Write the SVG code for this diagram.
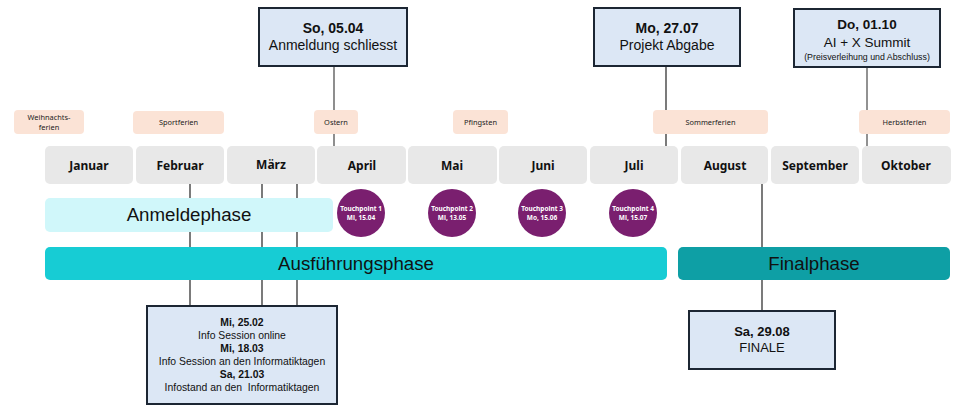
<svg xmlns="http://www.w3.org/2000/svg" width="980" height="410" viewBox="0 0 980 410">
<style>
.month rect{fill:#E8E8E8;}
.month text{font-family:"Noto Sans","DejaVu Sans",sans-serif;font-weight:bold;font-size:12px;fill:#111;text-anchor:middle;}
.hol rect{fill:#FBE3D6;}
.hol text{font-family:"Noto Sans","DejaVu Sans",sans-serif;font-size:7.4px;fill:#222;text-anchor:middle;}
.ev rect{fill:#DCE7F5;stroke:#1C2633;stroke-width:2;}
.ev text{font-family:"Liberation Sans","Arial",sans-serif;fill:#111;text-anchor:middle;}
.b{font-weight:bold;}
.tp circle{fill:#7A1F6F;}
.tp text{font-family:"Noto Sans","DejaVu Sans",sans-serif;font-weight:bold;font-size:6.5px;fill:#fff;text-anchor:middle;}
.ph text{font-family:"Liberation Sans","Arial",sans-serif;font-size:18.7px;fill:#111;text-anchor:middle;}
.con line{stroke:#222;stroke-width:1.2;}
</style>
<rect width="980" height="410" fill="#fff"/>
<g id="connectors" class="con">
<line x1="334" y1="66" x2="334" y2="146" style="stroke:#444"/>
<line x1="666" y1="66" x2="666" y2="146"/>
<line x1="867" y1="67" x2="867" y2="146" style="stroke:#777;stroke-width:1.6"/>
<line x1="190" y1="184" x2="190" y2="306"/>
<line x1="262" y1="184" x2="262" y2="306"/>
<line x1="297" y1="184" x2="297" y2="306"/>
<line x1="762" y1="184" x2="762" y2="311"/>
</g>
<g id="holidays" class="hol">
<g id="h-weihnachten"><rect x="14" y="110" width="70" height="24" rx="4"/><text x="49" y="120">Weihnachts-</text><text x="49" y="130">ferien</text></g>
<g id="h-sport"><rect x="133" y="111" width="91" height="23" rx="4"/><text x="178.5" y="125">Sportferien</text></g>
<g id="h-ostern"><rect x="314" y="110" width="44" height="24" rx="4"/><text x="336" y="125">Ostern</text></g>
<g id="h-pfingsten"><rect x="453" y="110" width="55" height="24" rx="4"/><text x="480.5" y="125">Pfingsten</text></g>
<g id="h-sommer"><rect x="653" y="110" width="115" height="24" rx="4"/><text x="710.5" y="125">Sommerferien</text></g>
<g id="h-herbst"><rect x="859" y="110" width="91" height="24" rx="4"/><text x="904.5" y="125">Herbstferien</text></g>
</g>
<g id="months" class="month">
<g id="m-jan"><rect x="45" y="146" width="88" height="38" rx="5"/><text x="89" y="170">Januar</text></g>
<g id="m-feb"><rect x="136" y="146" width="88" height="38" rx="5"/><text x="180" y="170">Februar</text></g>
<g id="m-mar"><rect x="227" y="146" width="88" height="38" rx="5"/><text x="271" y="169">März</text></g>
<g id="m-apr"><rect x="317" y="146" width="89" height="38" rx="5"/><text x="362" y="170">April</text></g>
<g id="m-mai"><rect x="408" y="146" width="89" height="38" rx="5"/><text x="452" y="170">Mai</text></g>
<g id="m-jun"><rect x="499" y="146" width="88" height="38" rx="5"/><text x="543" y="170">Juni</text></g>
<g id="m-jul"><rect x="590" y="146" width="88" height="38" rx="5"/><text x="634" y="170">Juli</text></g>
<g id="m-aug"><rect x="681" y="146" width="87" height="38" rx="5"/><text x="725" y="170">August</text></g>
<g id="m-sep"><rect x="771" y="146" width="88" height="38" rx="5"/><text x="815" y="170">September</text></g>
<g id="m-okt"><rect x="862" y="146" width="89" height="38" rx="5"/><text x="906" y="170">Oktober</text></g>
</g>
<g class="ph">
<g id="anmeldephase"><rect x="45" y="198" width="288" height="34" rx="5" fill="#D0F7FA"/><text x="189" y="221">Anmeldephase</text></g>
<g id="ausfuehrungsphase"><rect x="45" y="247" width="622" height="33" rx="5" fill="#17CCD4"/><text x="356" y="270">Ausführungsphase</text></g>
<g id="finalphase"><rect x="678" y="247" width="272" height="33" rx="5" fill="#0E9FA5"/><text x="814" y="270">Finalphase</text></g>
</g>
<g class="tp">
<g id="tp1"><circle cx="361" cy="213" r="24"/><text x="361" y="211">Touchpoint 1</text><text x="361" y="220">Mi, 15.04</text></g>
<g id="tp2"><circle cx="452" cy="213" r="24"/><text x="452" y="211">Touchpoint 2</text><text x="452" y="220">Mi, 13.05</text></g>
<g id="tp3"><circle cx="542" cy="213" r="24"/><text x="542" y="211">Touchpoint 3</text><text x="542" y="220">Mo, 15.06</text></g>
<g id="tp4"><circle cx="633" cy="213" r="24"/><text x="633" y="211">Touchpoint 4</text><text x="633" y="220">Mi, 15.07</text></g>
</g>
<g class="ev">
<g id="ev-anmeldung"><rect x="259" y="8" width="148" height="58"/><text class="b" x="333" y="33" font-size="14">So, 05.04</text><text x="333" y="50" font-size="14">Anmeldung schliesst</text></g>
<g id="ev-abgabe"><rect x="594" y="8" width="146" height="58"/><text class="b" x="667" y="33" font-size="14">Mo, 27.07</text><text x="667" y="50" font-size="14">Projekt Abgabe</text></g>
<g id="ev-summit"><rect x="794" y="9" width="146" height="58"/><text class="b" x="867" y="29" font-size="13.5">Do, 01.10</text><text x="867" y="47" font-size="13.5">AI + X Summit</text><text x="867" y="60" font-size="8.8">(Preisverleihung und Abschluss)</text></g>
<g id="ev-info"><rect x="147" y="306" width="190" height="98"/>
<text class="b" x="242" y="326" font-size="10.4">Mi, 25.02</text>
<text x="242" y="339" font-size="10.4">Info Session online</text>
<text class="b" x="242" y="352" font-size="10.4">Mi, 18.03</text>
<text x="242" y="365" font-size="10.4">Info Session an den Informatiktagen</text>
<text class="b" x="242" y="378" font-size="10.4">Sa, 21.03</text>
<text x="242" y="391" font-size="10.4" xml:space="preserve">Infostand an den  Informatiktagen</text></g>
<g id="ev-finale"><rect x="689" y="311" width="146" height="58"/><text class="b" x="762" y="336" font-size="13">Sa, 29.08</text><text x="762" y="352" font-size="13">FINALE</text></g>
</g>
</svg>
